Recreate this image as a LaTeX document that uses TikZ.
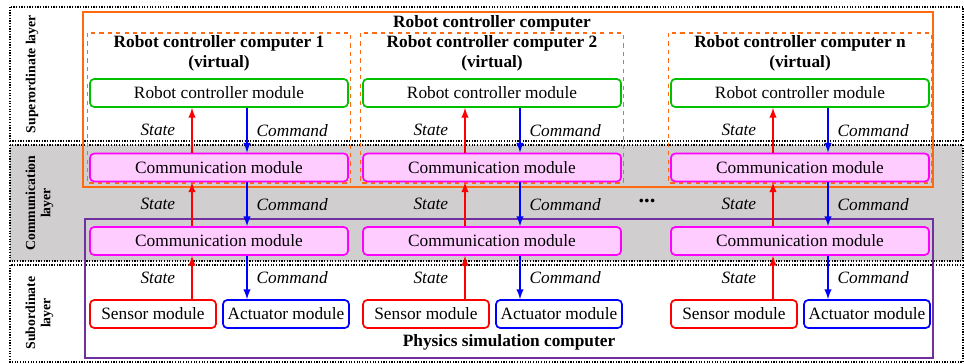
\documentclass[tikz,border=0pt]{standalone}
\usepackage{fontspec}
\setmainfont{Liberation Serif}
\usepackage{xcolor}
\usetikzlibrary{positioning}

\begin{document}
\begin{tikzpicture}[
    x=0.025cm, y=-0.025cm,
    font=\fontsize{12.3}{14}\selectfont,
    >=latex,
    layerband/.style={densely dotted, line width=0.9pt},
    layerlabel/.style={rotate=90, align=center, font=\fontsize{9.8}{10.8}\selectfont\bfseries},
    title/.style={align=center, font=\fontsize{12.3}{14}\selectfont\bfseries},
    module/.style={draw, rounded corners=3pt, line width=1.2pt, inner sep=0pt,
        minimum height=0.7cm},
    ctrlmod/.style={module, vgreen, text=black, minimum width=6.45cm},
    commmod/.style={module, vmagenta, fill=vpink, text=black, minimum width=6.45cm},
    sensmod/.style={module, vred, text=black, minimum width=3.15cm},
    actmod/.style={module, vblue, text=black, minimum width=3.15cm},
    statearrow/.style={->, vred, line width=1.4pt},
    cmdarrow/.style={->, vblue, line width=1.4pt},
    flowlabel/.style={text=black, font=\fontsize{12.3}{14}\selectfont\itshape}
]

\definecolor{vorange}{HTML}{FF6A10}
\definecolor{vgreen}{HTML}{00C000}
\definecolor{vmagenta}{HTML}{FF00FF}
\definecolor{vpink}{HTML}{FFCCFF}
\definecolor{vred}{HTML}{FF0000}
\definecolor{vblue}{HTML}{0000FF}
\definecolor{vpurple}{HTML}{7030A0}
\definecolor{vgray}{HTML}{D0CECE}

\useasboundingbox (0,0) rectangle (964,363);

% ==========================================
% 1. LAYER BANDS
% ==========================================

\fill[vgray] (10,145) rectangle (963,261);
\draw[layerband] (10,7) rectangle (963,141);
\draw[layerband] (10,145) rectangle (963,261);
\draw[layerband] (10,265) rectangle (963,362);

\node[layerlabel] (supl) at (32,74) {Superordinate layer};
\node[layerlabel] (coml) at (39.5,203) {Communication\\layer};
\node[layerlabel] (subl) at (39.5,313) {Subordinate\\layer};

% ==========================================
% 2. COMPUTERS
% ==========================================

\draw[vorange, line width=1.4pt] (83,12) rectangle (933,187);
\node[title] (rcc) at (492,23) {Robot controller computer};

\draw[vpurple, line width=1.4pt] (85,219) rectangle (933,358);
\node[title] (psc) at (509,342) {Physics simulation computer};

% ==========================================
% 3. ROBOT BLOCKS
% ==========================================

\foreach \cx/\k in {219/1, 492/2, 800/n} {
    \draw[vorange, dashed, line width=1.1pt] (\cx-131.5,33) rectangle (\cx+131.5,183);
    \node[title] (vrc\k) at (\cx,53) {Robot controller computer \k\\(virtual)};

    \node[ctrlmod] (rcm\k) at (\cx,93) {Robot controller module};
    \node[commmod] (cmu\k) at (\cx,167.5) {Communication module};
    \node[commmod] (cml\k) at (\cx,241) {Communication module};
    \node[sensmod] (sen\k) at (\cx-66,314) {Sensor module};
    \node[actmod] (act\k) at (\cx+67,314) {Actuator module};

    \coordinate (up\k) at (\cx-27,0);
    \coordinate (dn\k) at (\cx+28,0);

    \draw[statearrow] (up\k |- cmu\k.north) -- (up\k |- rcm\k.south)
        node[flowlabel, midway, left=0.28cm] (sta\k) {State};
    \draw[cmdarrow] (dn\k |- rcm\k.south) -- (dn\k |- cmu\k.north)
        node[flowlabel, midway, right=0.1cm] (cma\k) {Command};

    \draw[statearrow] (up\k |- cml\k.north) -- (up\k |- cmu\k.south)
        node[flowlabel, midway, left=0.28cm] (stb\k) {State};
    \draw[cmdarrow] (dn\k |- cmu\k.south) -- (dn\k |- cml\k.north)
        node[flowlabel, midway, right=0.1cm] (cmb\k) {Command};

    \draw[statearrow] (up\k |- sen\k.north) -- (up\k |- cml\k.south)
        node[flowlabel, midway, left=0.28cm] (stc\k) {State};
    \draw[cmdarrow] (dn\k |- cml\k.south) -- (dn\k |- act\k.north)
        node[flowlabel, midway, right=0.1cm] (cmc\k) {Command};
}

\node (dots) at (647,201) {\fontsize{16}{16}\selectfont\bfseries ...};

\end{tikzpicture}
\end{document}
